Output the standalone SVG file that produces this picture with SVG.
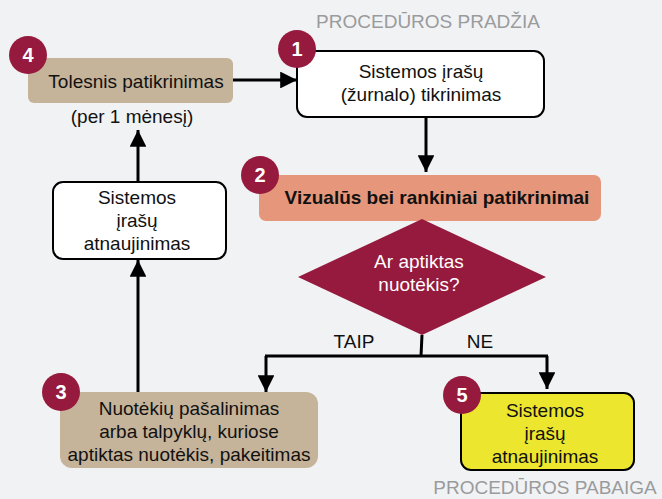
<svg xmlns="http://www.w3.org/2000/svg" width="662" height="499" viewBox="0 0 662 499">
<defs>
<style>
text{font-family:"Liberation Sans",Arial,sans-serif;font-size:19px;fill:#111;text-anchor:middle}
.hdr{fill:#9a9b9d}
.badge circle{fill:#951a3e}
.badge text{fill:#fff;font-weight:bold;font-size:20px}
.wht{fill:#fff}
.line{stroke:#000;stroke-width:3;fill:none}
</style>
<marker id="ah" viewBox="0 0 10 10" refX="10" refY="5" markerWidth="5.6" markerHeight="5.6" markerUnits="strokeWidth" orient="auto">
<path d="M0,0 L10,5 L0,10 z" fill="#000"/>
</marker>
</defs>
<rect width="662" height="499" fill="#f1f2f4"/>
<text class="hdr" x="428" y="28">PROCEDŪROS PRADŽIA</text>
<text class="hdr" x="545" y="494">PROCEDŪROS PABAIGA</text>

<g id="connectors">
<line class="line" x1="233" y1="80" x2="297" y2="80" stroke-width="3.5" marker-end="url(#ah)"/>
<line class="line" x1="426" y1="117" x2="426" y2="172" marker-end="url(#ah)"/>
<polyline class="line" points="422,335 421,356" stroke-width="2.5"/>
<line class="line" x1="265" y1="356" x2="548" y2="356" stroke-width="2.5"/>
<line class="line" x1="266" y1="356" x2="266" y2="392" marker-end="url(#ah)"/>
<line class="line" x1="547" y1="356" x2="547" y2="389" marker-end="url(#ah)"/>
<line class="line" x1="138" y1="392" x2="138" y2="260" marker-end="url(#ah)"/>
<line class="line" x1="138" y1="182" x2="138" y2="130" marker-end="url(#ah)"/>
<text x="354" y="348">TAIP</text>
<text x="480" y="348">NE</text>
</g>

<g id="node4">
<rect x="28" y="58" width="205" height="45" rx="6" fill="#c5b39a"/>
<text x="136" y="88">Tolesnis patikrinimas</text>
<text x="132" y="123">(per 1 mėnesį)</text>
<g class="badge"><circle cx="28" cy="55" r="19"/><text x="28" y="62">4</text></g>
</g>

<g id="node1">
<rect x="297" y="51" width="247" height="66" rx="10" fill="#fff" stroke="#000" stroke-width="2"/>
<text x="421" y="78">Sistemos įrašų</text>
<text x="421" y="101">(žurnalo) tikrinimas</text>
<g class="badge"><circle cx="297" cy="49" r="19"/><text x="297" y="56">1</text></g>
</g>

<g id="node2">
<rect x="259" y="175" width="342" height="46" rx="7" fill="#e6977b"/>
<text x="437" y="204" font-weight="bold">Vizualūs bei rankiniai patikrinimai</text>
<g class="badge"><circle cx="260" cy="175" r="19"/><text x="260" y="182">2</text></g>
</g>

<g id="decision">
<polygon points="422,219 546,277 422,335 298,277" fill="#951a3e"/>
<text class="wht" x="419" y="268">Ar aptiktas</text>
<text class="wht" x="419" y="291">nuotėkis?</text>
</g>

<g id="nodeUpdateLeft">
<rect x="53" y="182" width="173" height="77" rx="10" fill="#fff" stroke="#000" stroke-width="2"/>
<text x="137" y="204">Sistemos</text>
<text x="137" y="227">įrašų</text>
<text x="137" y="250">atnaujinimas</text>
</g>

<g id="node3">
<rect x="60" y="392" width="258" height="76" rx="12" fill="#c5b39a"/>
<text x="189" y="415">Nuotėkių pašalinimas</text>
<text x="189" y="438">arba talpyklų, kuriose</text>
<text x="189" y="461">aptiktas nuotėkis, pakeitimas</text>
<g class="badge"><circle cx="61" cy="392" r="19"/><text x="61" y="399">3</text></g>
</g>

<g id="node5">
<rect x="461" y="393" width="173" height="77" rx="10" fill="#ece62f" stroke="#000" stroke-width="2"/>
<text x="545" y="417">Sistemos</text>
<text x="545" y="440">įrašų</text>
<text x="545" y="463">atnaujinimas</text>
<g class="badge"><circle cx="462" cy="395" r="19"/><text x="462" y="402">5</text></g>
</g>
</svg>
